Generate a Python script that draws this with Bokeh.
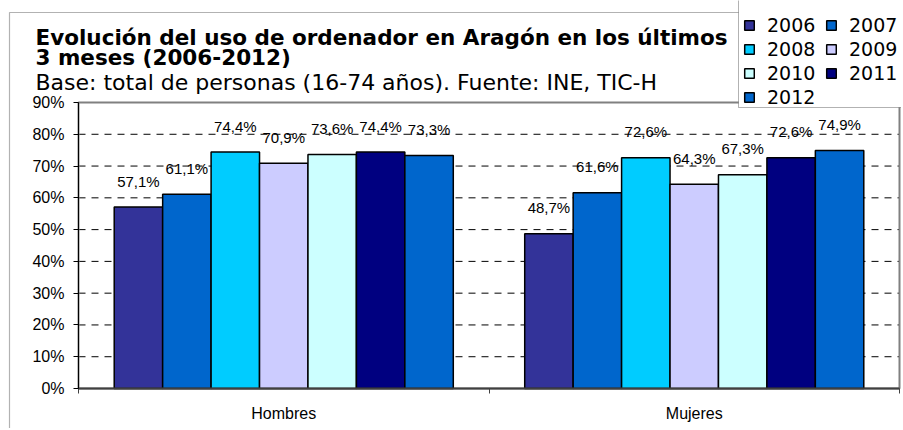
from bokeh.plotting import figure
from bokeh.models import (ColumnDataSource, FixedTicker, Legend, LegendItem, Label,
                          BoxAnnotation, Range1d)
from bokeh.core.properties import value
from bokeh.embed import file_html
from bokeh.resources import INLINE

# ---- data ----
categories = ["Hombres", "Mujeres"]
years = ["2006", "2007", "2008", "2009", "2010", "2011", "2012"]
hombres = [57.1, 61.1, 74.4, 70.9, 73.6, 74.4, 73.3]
mujeres = [48.7, 61.6, 72.6, 64.3, 67.3, 72.6, 74.9]
y_ticks = [0, 10, 20, 30, 40, 50, 60, 70, 80, 90]
y_tick_labels = ["0%", "10%", "20%", "30%", "40%", "50%", "60%", "70%", "80%", "90%"]
colors = ["#333399", "#0066CC", "#00CCFF", "#CCCCFF", "#CCFFFF", "#000080", "#0066CC"]
title_1 = "Evolución del uso de ordenador en Aragón en los últimos"
title_2 = "3 meses (2006-2012)"
subtitle = "Base: total de personas (16-74 años).  Fuente: INE, TIC-H"

series = [hombres, mujeres]

# ---- layout (canvas pixels) ----
W, H = 901, 428
FL, FR, FT, FB = 78, 899, 102, 388   # plot-area edges
ncat = len(categories)
ymax = y_ticks[-1]
xpx = (FR - FL) / ncat
ypx = (FB - FT) / ymax

p = figure(width=W, height=H, output_backend="svg", toolbar_location=None,
           x_range=Range1d(-FL / xpx, ncat + (W - FR) / xpx),
           y_range=Range1d(-(H - FB) / ypx, ymax + FT / ypx),
           min_border=0, min_border_left=0, min_border_right=0,
           min_border_top=0, min_border_bottom=0)
p.background_fill_color = "white"
p.border_fill_color = "white"
p.outline_line_color = None
p.grid.visible = False

# grid lines and plot-area border
inner = y_ticks[1:-1]
p.segment(x0=[0] * len(inner), x1=[ncat] * len(inner), y0=inner, y1=inner,
          line_color="black", line_width=1, line_dash="7 6", level="underlay")
p.quad(left=[0], right=[ncat], bottom=[0], top=[ymax], fill_color=None,
       line_color="#808080", line_width=2, level="underlay")

bar_w = 0.118
n = len(years)
items = []
for j, yr in enumerate(years):
    xs = [i + 0.5 + (j - (n - 1) / 2) * bar_w for i in range(ncat)]
    tops = [series[i][j] for i in range(ncat)]
    src = ColumnDataSource(dict(x=xs, top=tops,
                                lab=[f"{t:.1f}%".replace(".", ",") for t in tops]))
    r = p.vbar(x="x", top="top", width=bar_w, source=src, fill_color=colors[j],
               line_color="black", line_width=1.5)
    p.text(x="x", y="top", text="lab", source=src, text_align="center",
           text_baseline="middle", y_offset=-26, text_font=value("Liberation Sans"),
           text_font_size="15px", text_color="black")
    items.append(LegendItem(label=yr, renderers=[r]))

# axes (fixed inside the canvas-wide frame)
p.yaxis.fixed_location = 0
p.yaxis.bounds = (0, ymax)
p.yaxis.ticker = FixedTicker(ticks=y_ticks)
p.yaxis.major_label_overrides = {t: l for t, l in zip(y_ticks, y_tick_labels)}
p.yaxis.axis_line_color = "black"
p.yaxis.major_tick_line_color = "black"
p.yaxis.major_tick_out = 5
p.yaxis.major_tick_in = 0
p.yaxis.minor_tick_line_color = None
p.yaxis.major_label_text_font = "Liberation Sans"
p.yaxis.major_label_text_font_size = "16px"
p.yaxis.major_label_text_color = "black"
p.yaxis.major_label_standoff = 9

p.xaxis.fixed_location = 0
p.xaxis.bounds = (0, ncat)
p.xaxis.ticker = FixedTicker(ticks=[i + 0.5 for i in range(ncat)],
                             minor_ticks=list(range(ncat + 1)))
p.xaxis.major_label_overrides = {i + 0.5: c for i, c in enumerate(categories)}
p.xaxis.axis_line_color = "#404040"
p.xaxis.axis_line_width = 2
p.xaxis.major_tick_line_color = None
p.xaxis.major_tick_out = 0
p.xaxis.minor_tick_line_color = "#404040"
p.xaxis.minor_tick_out = 5
p.xaxis.minor_tick_in = 0
p.xaxis.major_label_text_font = "Liberation Sans"
p.xaxis.major_label_text_font_size = "16px"
p.xaxis.major_label_text_color = "black"
p.xaxis.major_label_standoff = 11

# outer chart frame
p.add_layout(BoxAnnotation(left=9, right=W + 50, top=H - 12, bottom=-50,
                           left_units="screen", right_units="screen",
                           top_units="screen", bottom_units="screen",
                           fill_color=None, fill_alpha=0, line_color="black",
                           line_width=1.2, level="underlay"))

# titles
for txt, base, bold, size in [(title_1, 37, True, "21.5px"), (title_2, 57, True, "21.5px"),
                              (subtitle, 82, False, "22px")]:
    p.add_layout(Label(x=35, y=H - base, x_units="screen", y_units="screen", text=txt,
                       text_font="DejaVu Sans", text_font_style="bold" if bold else "normal",
                       text_font_size=size, text_color="black",
                       text_baseline="alphabetic", text_align="left"))

# legend box (extends above the canvas) and legend entries
p.add_layout(BoxAnnotation(left=738, right=W + 50, top=H + 50, bottom=H - 107,
                           left_units="screen", right_units="screen",
                           top_units="screen", bottom_units="screen",
                           fill_color="white", fill_alpha=1, line_color="black",
                           line_width=1))
legend = Legend(items=items, location=(743, H - 108), orientation="horizontal", ncols=2,
                border_line_color=None, background_fill_alpha=0,
                label_text_font="DejaVu Sans", label_text_font_size="19px",
                label_text_color="black", glyph_width=12, glyph_height=12,
                label_standoff=12, label_width=56, label_height=18,
                spacing=2, padding=0, margin=0)
p.add_layout(legend, "center")

open("out.html", "w").write(file_html(p, INLINE))
